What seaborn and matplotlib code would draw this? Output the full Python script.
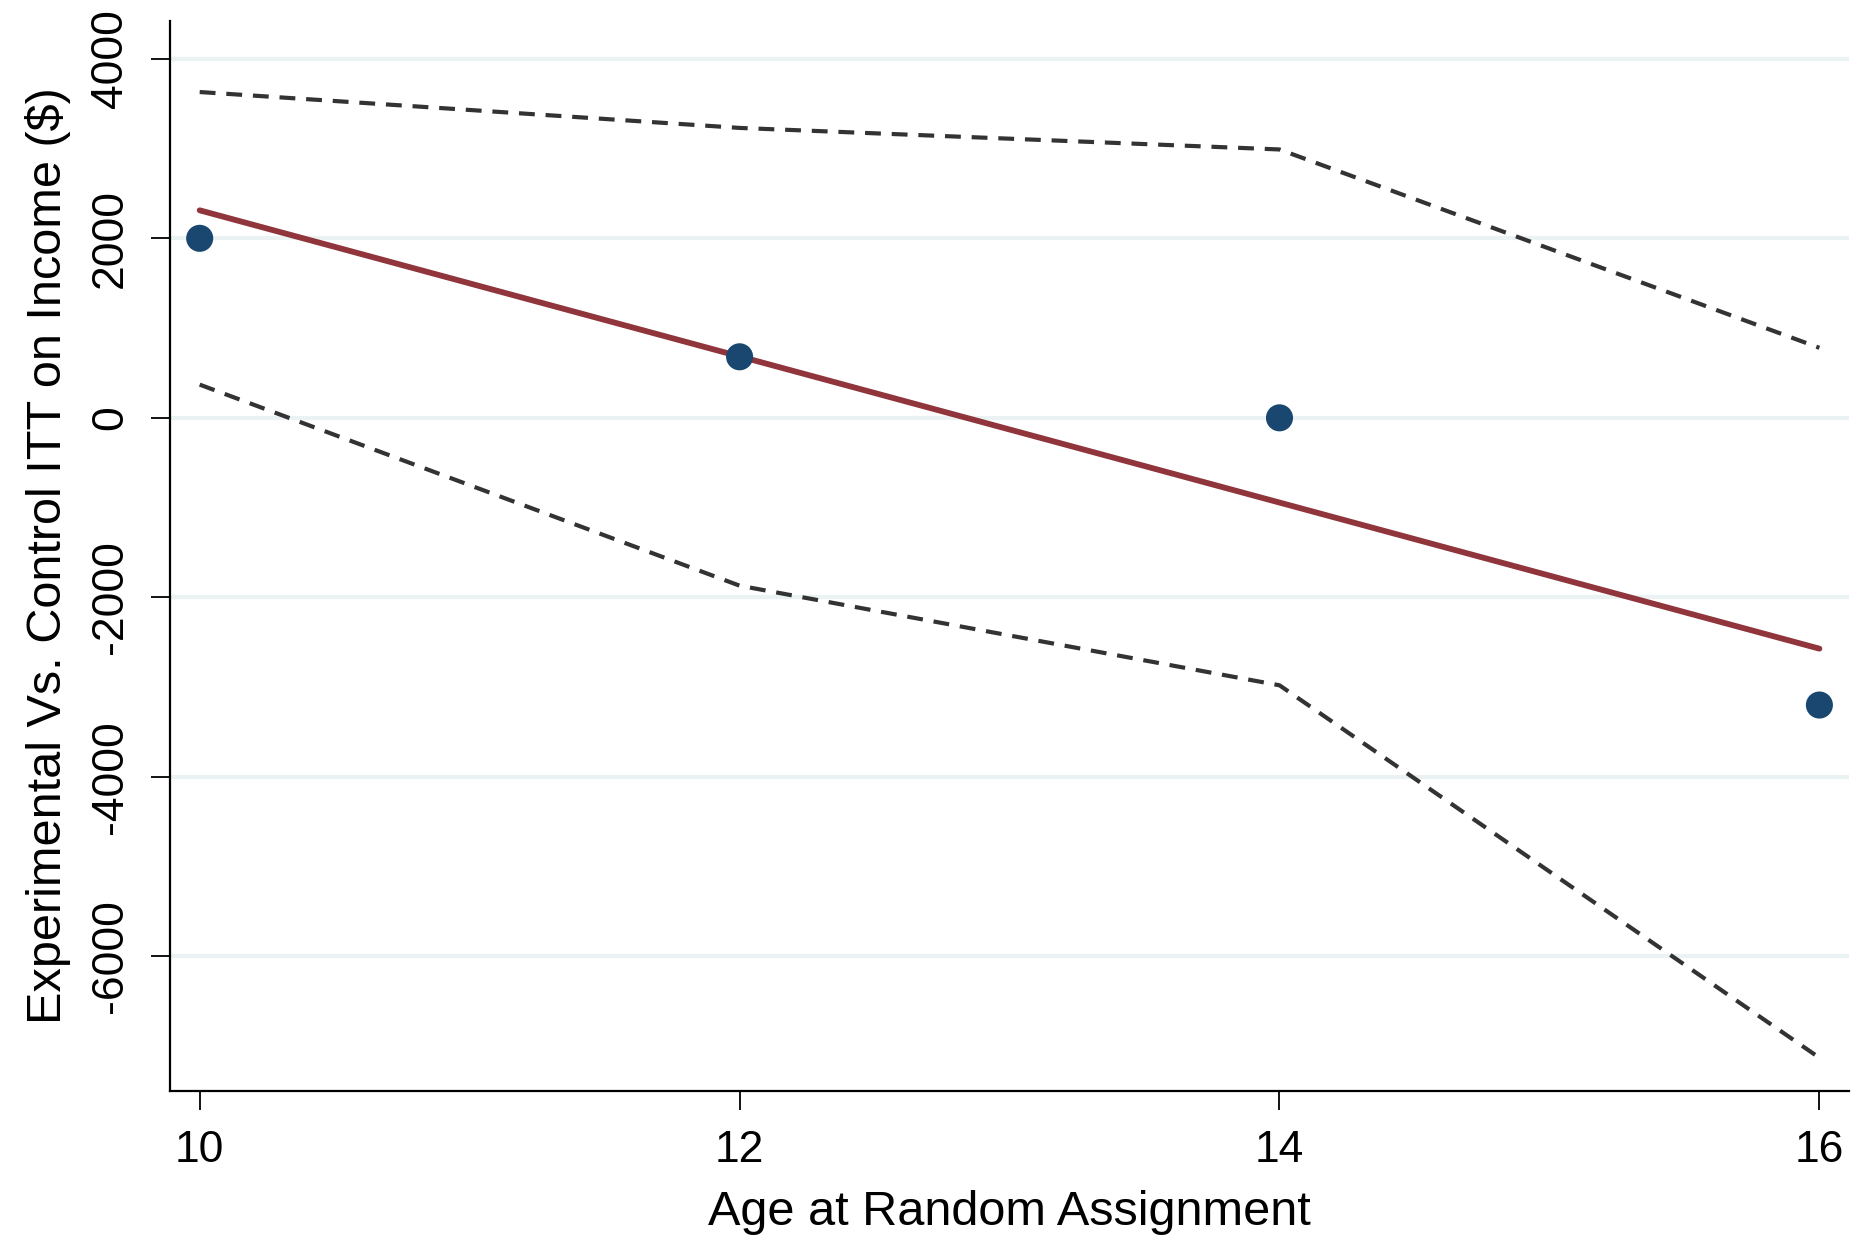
import matplotlib
matplotlib.use("Agg")
import matplotlib.pyplot as plt
import seaborn as sns
import pandas as pd

age = [10, 12, 14, 16]
itt = [2000, 680, 0, -3200]
ci_upper = [3630, 3230, 2990, 780]
ci_lower = [370, -1870, -2980, -7130]

yticks = [-6000, -4000, -2000, 0, 2000, 4000]
xticks = [10, 12, 14, 16]

df = pd.DataFrame({"age": age, "itt": itt, "hi": ci_upper, "lo": ci_lower})

sns.set_theme(style="white")
plt.rcParams["font.family"] = ["Liberation Sans", "DejaVu Sans"]
plt.rcParams["text.color"] = "black"
plt.rcParams["axes.labelcolor"] = "black"
plt.rcParams["xtick.color"] = "black"
plt.rcParams["ytick.color"] = "black"

fig = plt.figure(figsize=(18.64, 12.42), dpi=100)
ax = fig.add_axes([0.0912, 0.1216, 0.9008, 0.8614])

for yv in yticks:
    ax.axhline(yv, color="#eaf2f3", lw=3.0, zorder=0)

dash = (0, (3.8, 2.6))
sns.lineplot(data=df, x="age", y="hi", ax=ax, color="#333333", lw=3.0,
             linestyle=dash, zorder=2)
sns.lineplot(data=df, x="age", y="lo", ax=ax, color="#333333", lw=3.0,
             linestyle=dash, zorder=2)
sns.regplot(data=df, x="age", y="itt", ax=ax, scatter=False, ci=None,
            line_kws=dict(color="#90353b", lw=4.2, zorder=3))
sns.scatterplot(data=df, x="age", y="itt", ax=ax, color="#1a476f", s=380,
                edgecolor="none", zorder=4)

ax.set_xlim(9.89, 16.11)
ax.set_ylim(-7500, 4420)
ax.set_xticks(xticks)
ax.set_yticks(yticks)
ax.set_xticklabels([str(v) for v in xticks], fontsize=32)
ax.set_yticklabels([str(v) for v in yticks], fontsize=32, rotation=90, va="center")
ax.tick_params(axis="both", direction="out", length=14, width=1.3, color="black",
               labelcolor="black", bottom=True, left=True)
ax.tick_params(axis="x", pad=14)
ax.tick_params(axis="y", pad=14)

for side in ["top", "right"]:
    ax.spines[side].set_visible(False)
for side in ["left", "bottom"]:
    ax.spines[side].set_color("black")
    ax.spines[side].set_linewidth(1.6)

ax.set_xlabel("Age at Random Assignment", fontsize=35, labelpad=14, color="black")
ax.set_ylabel("Experimental Vs. Control ITT on Income ($)", fontsize=35,
              labelpad=14, color="black")
ax.grid(False)

fig.savefig("out.png", dpi=100, facecolor="white")
